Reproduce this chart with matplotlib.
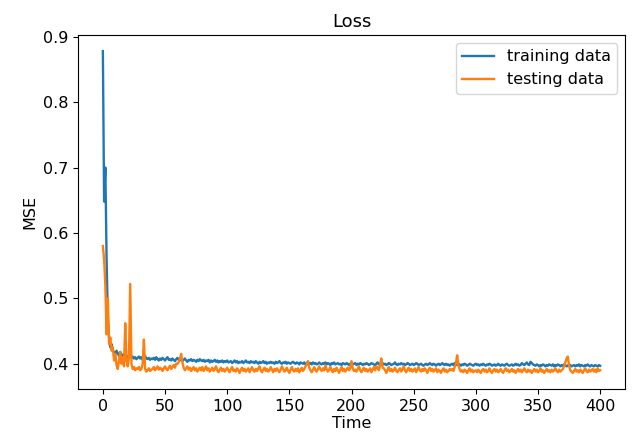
import matplotlib
matplotlib.use("Agg")
import matplotlib.pyplot as plt
import numpy as np

epochs = list(range(401))

training_loss = [
    0.878, 0.648, 0.700, 0.560, 0.470, 0.440, 0.425, 0.430, 0.420, 0.418, 0.415, 0.420, 0.416, 0.412, 0.418, 0.414, 0.410, 0.415, 0.412, 0.408,
    0.412, 0.410, 0.414, 0.409, 0.411, 0.408, 0.410, 0.407, 0.409, 0.411, 0.408, 0.410, 0.406, 0.409, 0.412, 0.408, 0.407, 0.409, 0.406, 0.408,
    0.407, 0.409, 0.406, 0.410, 0.407, 0.405, 0.408, 0.406, 0.409, 0.407, 0.405, 0.408, 0.410, 0.406, 0.407, 0.405, 0.408, 0.406, 0.404, 0.407,
    0.409, 0.406, 0.405, 0.407, 0.404, 0.406, 0.408, 0.405, 0.403, 0.406, 0.405, 0.407, 0.404, 0.406, 0.405, 0.403, 0.406, 0.404, 0.407, 0.405,
    0.404, 0.406, 0.403, 0.405, 0.404, 0.406, 0.402, 0.405, 0.403, 0.404, 0.406, 0.403, 0.405, 0.402, 0.404, 0.403, 0.405, 0.402, 0.404, 0.403,
    0.405, 0.402, 0.403, 0.404, 0.401, 0.403, 0.405, 0.402, 0.404, 0.401, 0.403, 0.402, 0.404, 0.401, 0.403, 0.405, 0.402, 0.403, 0.401, 0.404,
    0.402, 0.403, 0.401, 0.404, 0.402, 0.400, 0.403, 0.401, 0.402, 0.404, 0.401, 0.403, 0.400, 0.402, 0.401, 0.403, 0.401, 0.402, 0.400, 0.403,
    0.401, 0.402, 0.404, 0.401, 0.400, 0.402, 0.401, 0.403, 0.400, 0.402, 0.401, 0.400, 0.402, 0.403, 0.401, 0.400, 0.402, 0.401, 0.399, 0.402,
    0.401, 0.400, 0.402, 0.399, 0.401, 0.403, 0.400, 0.401, 0.399, 0.402, 0.400, 0.401, 0.399, 0.400, 0.402, 0.400, 0.399, 0.401, 0.400, 0.402,
    0.399, 0.401, 0.400, 0.398, 0.401, 0.400, 0.402, 0.399, 0.400, 0.401, 0.399, 0.400, 0.398, 0.401, 0.400, 0.399, 0.401, 0.400, 0.398, 0.400,
    0.402, 0.399, 0.400, 0.401, 0.398, 0.400, 0.399, 0.401, 0.400, 0.398, 0.400, 0.399, 0.401, 0.400, 0.398, 0.399, 0.401, 0.400, 0.399, 0.398,
    0.400, 0.402, 0.399, 0.400, 0.398, 0.401, 0.399, 0.400, 0.398, 0.399, 0.401, 0.400, 0.398, 0.399, 0.400, 0.402, 0.399, 0.398, 0.400, 0.399,
    0.401, 0.399, 0.400, 0.398, 0.399, 0.401, 0.400, 0.398, 0.399, 0.400, 0.398, 0.399, 0.401, 0.400, 0.398, 0.399, 0.400, 0.398, 0.397, 0.399,
    0.400, 0.398, 0.399, 0.401, 0.399, 0.398, 0.400, 0.399, 0.397, 0.399, 0.400, 0.398, 0.399, 0.401, 0.399, 0.398, 0.400, 0.398, 0.399, 0.397,
    0.399, 0.400, 0.398, 0.401, 0.399, 0.398, 0.400, 0.399, 0.397, 0.399, 0.398, 0.400, 0.399, 0.397, 0.398, 0.400, 0.399, 0.398, 0.397, 0.399,
    0.400, 0.398, 0.399, 0.397, 0.399, 0.398, 0.400, 0.398, 0.397, 0.399, 0.398, 0.400, 0.399, 0.397, 0.398, 0.399, 0.397, 0.398, 0.400, 0.398,
    0.397, 0.399, 0.398, 0.397, 0.399, 0.400, 0.398, 0.397, 0.398, 0.399, 0.397, 0.398, 0.400, 0.398, 0.399, 0.397, 0.398, 0.401, 0.399, 0.398,
    0.400, 0.402, 0.399, 0.398, 0.403, 0.401, 0.399, 0.398, 0.397, 0.399, 0.398, 0.396, 0.398, 0.397, 0.399, 0.398, 0.396, 0.398, 0.397, 0.399,
    0.398, 0.397, 0.399, 0.396, 0.398, 0.397, 0.399, 0.398, 0.396, 0.398, 0.397, 0.399, 0.398, 0.396, 0.397, 0.399, 0.398, 0.396, 0.397, 0.398,
    0.396, 0.398, 0.397, 0.399, 0.396, 0.398, 0.397, 0.396, 0.398, 0.397, 0.399, 0.397, 0.396, 0.398, 0.397, 0.396, 0.398, 0.397, 0.396, 0.398,
    0.397,
]

testing_loss = [
    0.580, 0.560, 0.520, 0.445, 0.500, 0.430, 0.440, 0.420, 0.425, 0.405, 0.415, 0.398, 0.392, 0.405, 0.418, 0.400, 0.410, 0.396, 0.462, 0.405,
    0.396, 0.410, 0.522, 0.400, 0.392, 0.395, 0.390, 0.393, 0.392, 0.395, 0.390, 0.392, 0.400, 0.437, 0.392, 0.388, 0.390, 0.393, 0.389, 0.391,
    0.392, 0.395, 0.390, 0.393, 0.396, 0.391, 0.394, 0.392, 0.389, 0.393, 0.396, 0.392, 0.390, 0.394, 0.397, 0.392, 0.395, 0.398, 0.394, 0.400,
    0.400, 0.403, 0.408, 0.415, 0.402, 0.394, 0.390, 0.393, 0.396, 0.391, 0.394, 0.389, 0.392, 0.395, 0.390, 0.393, 0.388, 0.391, 0.394, 0.390,
    0.395, 0.389, 0.392, 0.396, 0.390, 0.393, 0.388, 0.391, 0.394, 0.389, 0.392, 0.396, 0.390, 0.387, 0.391, 0.394, 0.389, 0.392, 0.388, 0.391,
    0.394, 0.390, 0.387, 0.392, 0.395, 0.389, 0.391, 0.388, 0.393, 0.390, 0.386, 0.391, 0.394, 0.389, 0.392, 0.388, 0.390, 0.393, 0.387, 0.391,
    0.395, 0.390, 0.388, 0.392, 0.389, 0.393, 0.396, 0.390, 0.387, 0.391, 0.394, 0.389, 0.392, 0.388, 0.390, 0.395, 0.391, 0.387, 0.392, 0.389,
    0.393, 0.390, 0.387, 0.391, 0.396, 0.392, 0.388, 0.390, 0.394, 0.389, 0.386, 0.391, 0.395, 0.390, 0.388, 0.392, 0.389, 0.393, 0.387, 0.390,
    0.394, 0.389, 0.392, 0.396, 0.399, 0.404, 0.394, 0.390, 0.387, 0.391, 0.395, 0.390, 0.388, 0.392, 0.396, 0.391, 0.389, 0.393, 0.390, 0.397,
    0.392, 0.388, 0.391, 0.395, 0.390, 0.387, 0.392, 0.389, 0.394, 0.390, 0.386, 0.391, 0.395, 0.389, 0.392, 0.388, 0.391, 0.394, 0.390, 0.393,
    0.404, 0.393, 0.389, 0.391, 0.388, 0.392, 0.396, 0.390, 0.387, 0.391, 0.394, 0.389, 0.392, 0.388, 0.390, 0.393, 0.387, 0.391, 0.395, 0.390,
    0.396, 0.394, 0.390, 0.398, 0.408, 0.394, 0.393, 0.390, 0.386, 0.391, 0.395, 0.389, 0.392, 0.388, 0.390, 0.394, 0.389, 0.387, 0.391, 0.393,
    0.388, 0.392, 0.396, 0.390, 0.387, 0.391, 0.394, 0.389, 0.392, 0.388, 0.390, 0.393, 0.387, 0.391, 0.395, 0.390, 0.388, 0.392, 0.389, 0.393,
    0.390, 0.386, 0.391, 0.394, 0.389, 0.392, 0.388, 0.390, 0.393, 0.387, 0.391, 0.389, 0.386, 0.390, 0.393, 0.388, 0.391, 0.387, 0.389, 0.392,
    0.390, 0.392, 0.389, 0.395, 0.401, 0.413, 0.398, 0.391, 0.388, 0.390, 0.387, 0.391, 0.389, 0.386, 0.390, 0.393, 0.388, 0.391, 0.387, 0.389,
    0.390, 0.387, 0.391, 0.388, 0.386, 0.390, 0.392, 0.388, 0.391, 0.387, 0.389, 0.393, 0.388, 0.386, 0.390, 0.392, 0.388, 0.391, 0.387, 0.389,
    0.392, 0.388, 0.386, 0.390, 0.393, 0.389, 0.391, 0.387, 0.389, 0.392, 0.388, 0.390, 0.386, 0.389, 0.392, 0.388, 0.391, 0.387, 0.390, 0.393,
    0.389, 0.387, 0.391, 0.388, 0.390, 0.386, 0.389, 0.392, 0.388, 0.391, 0.387, 0.389, 0.393, 0.388, 0.390, 0.386, 0.389, 0.392, 0.388, 0.390,
    0.387, 0.391, 0.388, 0.390, 0.393, 0.389, 0.387, 0.391, 0.388, 0.390, 0.392, 0.396, 0.402, 0.408, 0.411, 0.397, 0.390, 0.388, 0.386, 0.389,
    0.392, 0.388, 0.390, 0.387, 0.391, 0.388, 0.386, 0.390, 0.393, 0.389, 0.387, 0.391, 0.388, 0.390, 0.392, 0.388, 0.391, 0.387, 0.393, 0.389,
    0.390,
]

series_labels = ["training data", "testing data"]
title = "Loss"
x_label = "Time"
y_label = "MSE"

plt.rcParams["font.family"] = ["DejaVu Sans"]
plt.rcParams["font.size"] = 11.5

fig = plt.figure(figsize=(6.33, 4.38), dpi=100)
ax = fig.add_axes([78 / 633, 1 - 389 / 438, (625 - 78) / 633, (389 - 35) / 438])

ax.plot(epochs, training_loss, color="#1f77b4", lw=1.7, label=series_labels[0])
ax.plot(epochs, testing_loss, color="#ff7f0e", lw=1.7, label=series_labels[1])

ax.set_title(title, fontsize=13)
ax.set_xlabel(x_label, labelpad=2)
ax.set_ylabel(y_label, labelpad=4)
ax.set_xticks([0, 50, 100, 150, 200, 250, 300, 350, 400])
ax.set_yticks([0.4, 0.5, 0.6, 0.7, 0.8, 0.9])
ax.legend(loc="upper right")

fig.savefig("out.png", dpi=100)
